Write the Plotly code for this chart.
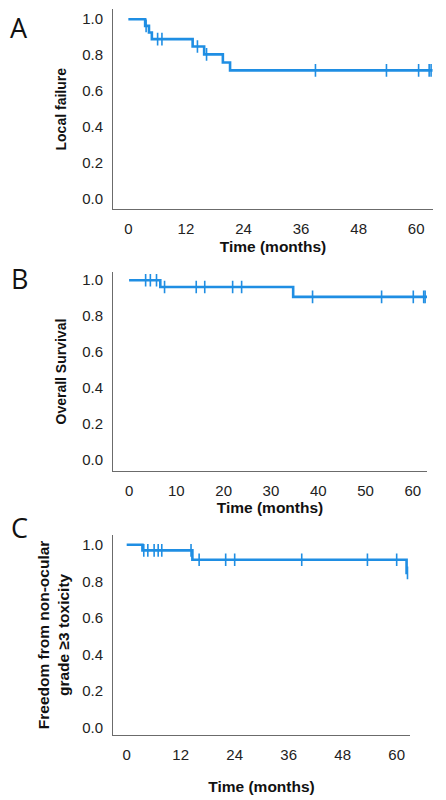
import numpy as np
import plotly.graph_objects as go

# %% data
# A: local failure
a_times = [0, 3.5, 4.3, 4.9, 13.4, 15.8, 19.7, 21.2]
a_surv = [1.0, 0.963, 0.926, 0.889, 0.848, 0.804, 0.759, 0.715]
a_censor = [3.7, 6.1, 7.0, 14.4, 16.3, 39.0, 53.8, 60.5, 62.7, 63.1]
a_end = 63.4

# B: overall survival
b_times = [0, 6.6, 34.7]
b_surv = [1.0, 0.962, 0.907]
b_censor = [3.5, 4.5, 5.8, 7.5, 14.2, 16.0, 21.9, 23.8, 38.8, 53.4, 60.1, 62.3, 62.6]
b_end = 63.0

# C: freedom from non-ocular grade >=3 toxicity
c_times = [0, 3.5, 14.6, 62.2]
c_surv = [1.0, 0.969, 0.918, 0.846]
c_censor = [3.8, 4.7, 6.1, 7.0, 7.8, 14.3, 16.1, 22.0, 24.0, 38.9, 53.5, 60.0, 62.4]
c_end = 62.4

y_ticks = [0.0, 0.2, 0.4, 0.6, 0.8, 1.0]
a_xticks = [0, 12, 24, 36, 48, 60]
b_xticks = [0, 10, 20, 30, 40, 50, 60]
c_xticks = [0, 12, 24, 36, 48, 60]

BLUE = "#1f8ee3"
AXIS = "#6b6b6b"
FONT = "Liberation Sans, Arial, sans-serif"
# page body has an 8px margin, so draw on a slightly smaller canvas
OFF = 8
W, H = 446 - OFF, 800 - OFF


def step_at(times, surv, t):
    """value of the KM step function at time t"""
    idx = np.searchsorted(times, t, side="right") - 1
    return np.asarray(surv)[idx]


def px_dom(x0, x1, y0, y1):
    """pixel box (in the 446x800 screenshot) -> paper domains"""
    return [(x0 - OFF) / W, (x1 - OFF) / W], [1 - (y1 - OFF) / H, 1 - (y0 - OFF) / H]


panels = [
    # times, surv, censor, end, xticks, ytitle, box, xrange, yrange, title standoff
    (a_times, a_surv, a_censor, a_end, a_xticks, "<b>Local failure</b>",
     (113, 433, 8, 209), [-3.2, 63.5], [-0.06, 1.057], 4),
    (b_times, b_surv, b_censor, b_end, b_xticks, "<b>Overall Survival</b>",
     (113, 427, 272, 471), [-3.4, 63.0], [-0.063, 1.044], 2),
    (c_times, c_surv, c_censor, c_end, c_xticks, "<b>Freedom from non-ocular<br>grade ≥3 toxicity</b>",
     (113, 410, 535, 736), [-3.04, 62.96], [-0.042, 1.055], 18),
]

fig = go.Figure()
layout = {}

for i, (times, surv, cens, end, xt, ytitle, box, xr, yr, stand) in enumerate(panels, start=1):
    xs = list(times) + [end]
    ys = list(surv) + [surv[-1]]
    xa = "x" if i == 1 else f"x{i}"
    ya = "y" if i == 1 else f"y{i}"
    fig.add_trace(go.Scatter(x=xs, y=ys, mode="lines", line_shape="hv",
                             line=dict(color=BLUE, width=2.6),
                             xaxis=xa, yaxis=ya, showlegend=False))
    fig.add_trace(go.Scatter(x=cens, y=step_at(times, surv, cens), mode="markers",
                             marker=dict(symbol="line-ns", size=9,
                                         line=dict(color=BLUE, width=1.6)),
                             xaxis=xa, yaxis=ya, showlegend=False))
    xd, yd = px_dom(*box)
    common = dict(showgrid=False, zeroline=False, showline=True, linecolor=AXIS,
                  linewidth=1, ticks="", tickfont=dict(family=FONT, size=15, color="#222"))
    layout["xaxis" if i == 1 else f"xaxis{i}"] = dict(
        domain=xd, range=xr, tickvals=xt, anchor=ya, ticklabelstandoff=6,
        title=dict(text="<b>Time (months)</b>", standoff=stand,
                   font=dict(family=FONT, size=15.5, color="#111")),
        **common)
    layout["yaxis" if i == 1 else f"yaxis{i}"] = dict(
        domain=yd, range=yr, tickvals=y_ticks, tickformat=".1f", anchor=xa,
        ticklabelstandoff=6,
        title=dict(text=ytitle, standoff=12 if i < 3 else 8,
                   font=dict(family=FONT, size=14 if i < 3 else 15.5, color="#111")),
        **common)

# panel letters
for letter, ypx in [("A", 27), ("B", 278), ("C", 528)]:
    fig.add_annotation(text=letter, x=(19 - OFF) / W, y=1 - (ypx - OFF) / H,
                       xref="paper", yref="paper", xanchor="center", yanchor="middle",
                       showarrow=False, font=dict(family="Open Sans, sans-serif", size=27, color="#111"))

fig.update_layout(width=W, height=H, margin=dict(l=0, r=0, t=0, b=0),
                  plot_bgcolor="white", paper_bgcolor="white", **layout)
fig.write_html("out.html")
